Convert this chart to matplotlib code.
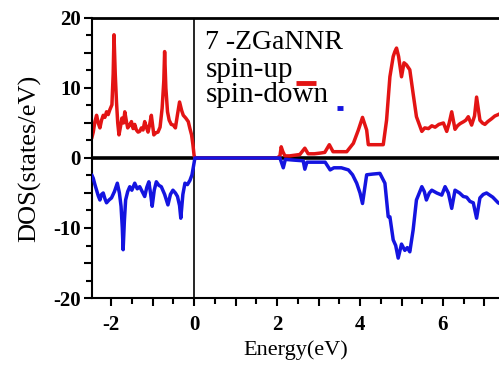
import numpy as np
import matplotlib
matplotlib.use('Agg')
import matplotlib.pyplot as plt
from matplotlib.ticker import MultipleLocator, FuncFormatter

# DOS of 7-ZGaNNR, spin-up (positive) and spin-down (negative)
E_up = [-2.46, -2.43, -2.39, -2.35, -2.31, -2.27, -2.23, -2.19, -2.15, -2.11,
        -2.07, -2.03, -1.98, -1.95, -1.93, -1.90, -1.87, -1.84, -1.81, -1.77,
        -1.74, -1.70, -1.67, -1.63, -1.60, -1.55, -1.51, -1.47, -1.43, -1.39,
        -1.35, -1.31, -1.27, -1.23, -1.19, -1.15, -1.11, -1.07, -1.03, -0.97,
        -0.92, -0.87, -0.82, -0.77, -0.73, -0.71, -0.68, -0.64, -0.60, -0.55,
        -0.50, -0.45, -0.40, -0.35, -0.30, -0.26, -0.20, -0.14, -0.10, -0.06,
        -0.03, 0.0, 0.02, 2.0, 2.07, 2.10, 2.14, 2.19, 2.30, 2.43, 2.55, 2.67,
        2.75, 2.90, 3.04, 3.15, 3.26, 3.35, 3.50, 3.68, 3.84, 3.96, 4.06,
        4.16, 4.20, 4.40, 4.56, 4.64, 4.72, 4.80, 4.84, 4.88, 4.93, 5.00,
        5.06, 5.12, 5.20, 5.28, 5.36, 5.49, 5.56, 5.65, 5.73, 5.81, 5.90,
        6.01, 6.09, 6.15, 6.21, 6.29, 6.35, 6.41, 6.50, 6.55, 6.61, 6.69,
        6.76, 6.81, 6.89, 6.95, 7.01, 7.08, 7.17, 7.25, 7.33, 7.40]
dos_up = [3.0, 3.7, 5.2, 6.1, 5.0, 4.3, 5.4, 6.1, 5.8, 6.6,
          6.2, 6.9, 7.6, 12.0, 17.6, 12.0, 8.0, 5.0, 3.3, 4.6,
          5.7, 5.0, 6.6, 5.2, 4.3, 4.7, 5.2, 4.2, 4.8, 4.0,
          3.7, 3.8, 4.3, 4.0, 5.2, 4.4, 3.7, 4.8, 6.1, 3.3,
          3.6, 3.7, 4.4, 7.1, 11.0, 15.2, 10.0, 6.6, 5.4, 4.8,
          4.7, 4.3, 6.2, 8.0, 6.8, 6.1, 5.7, 5.2, 4.2, 3.3,
          2.0, 0.4, 0.0, 0.0, 0.3, 1.6, 0.9, 0.3, 0.3, 0.4, 0.5, 1.4,
          0.6, 0.6, 0.7, 0.8, 1.9, 0.9, 0.9, 0.9, 2.1, 4.0, 5.8,
          4.0, 1.9, 1.9, 1.9, 5.4, 11.6, 14.5, 15.2, 15.7, 14.5, 11.6,
          13.6, 13.3, 12.6, 9.2, 5.9, 3.8, 4.3, 4.2, 4.6, 4.4, 4.8,
          5.0, 3.8, 5.0, 6.6, 4.1, 4.6, 4.9, 5.2, 5.4, 5.9, 4.7,
          6.0, 8.7, 5.4, 5.0, 4.8, 5.2, 5.6, 6.0, 6.2, 6.4]

E_dn = [-2.46, -2.43, -2.39, -2.35, -2.31, -2.27, -2.23, -2.19, -2.15, -2.11,
        -2.05, -1.99, -1.92, -1.85, -1.80, -1.76, -1.73, -1.71, -1.68, -1.65,
        -1.60, -1.55, -1.50, -1.43, -1.37, -1.31, -1.25, -1.19, -1.14, -1.09,
        -1.05, -1.01, -0.96, -0.91, -0.85, -0.79, -0.71, -0.63, -0.57, -0.51,
        -0.45, -0.40, -0.35, -0.32, -0.27, -0.22, -0.16, -0.10, -0.05, 0.0,
        0.02, 2.07, 2.15, 2.20, 2.40, 2.63, 2.67, 2.72, 2.95, 3.16, 3.28,
        3.37, 3.55, 3.72, 3.82, 3.92, 4.00, 4.06, 4.16, 4.30, 4.48, 4.60,
        4.68, 4.72, 4.80, 4.86, 4.92, 5.00, 5.08, 5.14, 5.20, 5.28, 5.36,
        5.49, 5.55, 5.60, 5.67, 5.73, 5.85, 5.97, 6.05, 6.13, 6.21, 6.29,
        6.40, 6.49, 6.57, 6.65, 6.73, 6.81, 6.89, 6.97, 7.05, 7.20, 7.33,
        7.40]
dos_dn = [-2.5, -2.9, -3.8, -4.6, -5.4, -6.0, -5.2, -5.0, -5.8, -6.4,
          -6.0, -5.7, -4.8, -3.6, -5.0, -6.9, -10.0, -13.1, -9.0, -6.0,
          -4.8, -4.1, -4.6, -3.6, -4.4, -4.1, -4.8, -5.5, -4.2, -3.4,
          -5.0, -6.9, -4.6, -3.4, -3.9, -4.1, -5.2, -6.7, -5.2, -4.6,
          -5.0, -5.5, -6.8, -8.6, -5.2, -3.6, -3.8, -3.2, -2.4, -0.7,
          0.0, 0.0, -1.4, -0.2, -0.3, -0.4, -1.6, -0.6, -0.6, -0.6, -1.7,
          -1.4, -1.4, -1.7, -2.4, -3.6, -5.0, -6.5, -2.4, -2.3, -2.2, -3.6,
          -8.4, -8.4, -11.7, -12.5, -14.3, -12.3, -13.2, -12.8, -13.4, -10.3, -6.0,
          -4.1, -4.8, -6.0, -5.0, -4.6, -5.0, -5.3, -4.1, -5.0, -7.2, -4.6,
          -5.0, -5.5, -5.6, -6.2, -6.4, -8.6, -5.7, -5.2, -5.0, -5.6, -6.4,
          -6.6]

xticks_lab = [-2, 0, 2, 4, 6]
yticks_lab = [-20, -10, 0, 10, 20]

serif = 'Liberation Serif'

fig = plt.figure(figsize=(4.99, 3.67), dpi=100)
ax = fig.add_axes([0.1844, 0.188, 0.8156, 0.763])

ax.axhline(0, color='black', lw=2.6, zorder=1)
ax.axvline(0, color='black', lw=1.2, zorder=1)
ax.plot(E_up, dos_up, color='#e31414', lw=2.5, zorder=2)
ax.plot(E_dn, dos_dn, color='#1414e0', lw=2.5, zorder=3)

ax.set_xlim(-2.46, 7.35)
ax.set_ylim(-20, 20)

ax.xaxis.set_major_locator(MultipleLocator(1))
ax.xaxis.set_minor_locator(MultipleLocator(0.5))
ax.yaxis.set_major_locator(MultipleLocator(5))
ax.yaxis.set_minor_locator(MultipleLocator(2.5))
ax.xaxis.set_major_formatter(FuncFormatter(
    lambda v, p: '%d' % round(v) if round(v) in xticks_lab else ''))
ax.yaxis.set_major_formatter(FuncFormatter(
    lambda v, p: '%d' % round(v) if round(v) in yticks_lab else ''))

ax.tick_params(which='major', direction='out', length=6, width=1.5)
ax.tick_params(which='minor', direction='out', length=4, width=1.5)
ax.tick_params(axis='x', which='major', pad=6)
ax.tick_params(axis='y', which='major', pad=2)
for lab in ax.get_xticklabels() + ax.get_yticklabels():
    lab.set_fontfamily(serif)
    lab.set_fontweight('bold')
    lab.set_fontsize(15)

ax.spines['right'].set_visible(False)
for s in ['left', 'bottom']:
    ax.spines[s].set_linewidth(1.5)
ax.spines['top'].set_linewidth(2)

ax.set_ylabel('DOS(states/eV)', fontfamily=serif, fontsize=19, labelpad=9)
ax.set_xlabel('Energy(eV)', fontfamily=serif, fontsize=16, labelpad=4)

# label block with short colour bars
ax.text(0.27, 0.889, '7 -ZGaNNR', transform=ax.get_xaxis_transform(),
        fontfamily=serif, fontsize=20)
ax.text(0.27, 0.789, 'spin-up', transform=ax.get_xaxis_transform(),
        fontfamily=serif, fontsize=21)
ax.text(0.27, 0.70, 'spin-down', transform=ax.get_xaxis_transform(),
        fontfamily=serif, fontsize=21)
ax.plot([0.501, 0.550], [0.768, 0.768], color='#e31414', lw=3.5,
        transform=ax.transAxes, solid_capstyle='butt')
ax.plot([0.602, 0.617], [0.679, 0.679], color='#1414e0', lw=3.5,
        transform=ax.transAxes, solid_capstyle='butt')

fig.savefig('out.png', dpi=100)
